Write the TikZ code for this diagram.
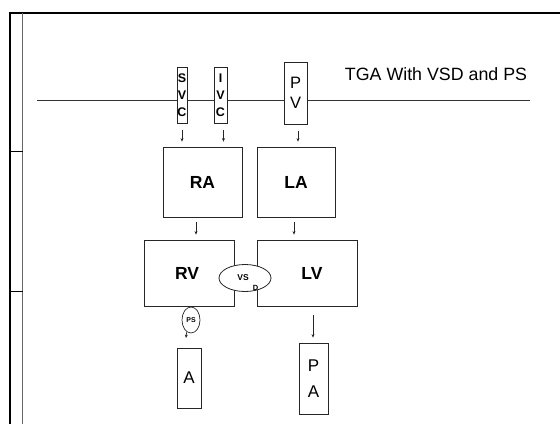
\documentclass[tikz,border=0pt]{standalone}
\usepackage{fontspec}
\setmainfont{Liberation Sans}
\usetikzlibrary{arrows.meta,shapes.geometric}
\begin{document}
\begin{tikzpicture}[x=1pt,y=-1pt,
  box/.style={draw=black!85,line width=0.8pt,fill=white,inner sep=0pt,align=center},
  flow/.style={draw=black!85,line width=0.6pt,-{Stealth[length=3.5pt,width=3pt]}},
  frame/.style={line width=1.6pt,black},
  vein/.style={box,font=\fontsize{12.5}{17}\selectfont\bfseries},
  big/.style={font=\fontsize{17.5}{19}\selectfont\bfseries},
  outl/.style={box,font=\fontsize{17}{26.5}\selectfont},
]
\useasboundingbox (0,0) rectangle (560,424);
% page frame
\draw[frame] (10,424) -- (10,13) -- (560,13);
\draw[line width=1pt,black!60] (22.5,13) -- (22.5,424);
\draw[line width=1pt] (10,151) -- (22.5,151);
\draw[line width=1pt] (10,291) -- (22.5,291);
% horizontal line
\coordinate (hl) at (37,100);
\coordinate (hr) at (530,100);
\draw[line width=0.8pt,black!80] (hl) -- (hr);
% title
\node[font=\fontsize{17.8}{20}\selectfont] (title) at (436,74) {TGA With VSD and PS};
% vessels
\node[vein,minimum width=10pt,minimum height=56pt] (svc) at (182,95) {S\\V\\C};
\node[vein,minimum width=13pt,minimum height=56pt] (ivc) at (220.5,95) {I\\V\\C};
\node[box,minimum width=23pt,minimum height=62pt,font=\fontsize{16.5}{20}\selectfont] (pv) at (295.5,93) {P\\V};
% chambers
\node[box,big,minimum width=79pt,minimum height=70pt] (ra) at (202.5,182) {RA};
\node[box,big,minimum width=78pt,minimum height=70pt] (la) at (296,182) {LA};
\node[box,minimum width=90pt,minimum height=66pt] (rv) at (189,273) {};
\node[big] (rvt) at (187,273) {RV};
\node[box,minimum width=100pt,minimum height=66pt] (lv) at (307,273) {};
\node[big] (lvt) at (312,273) {LV};
% VSD
\node[draw=black!85,line width=0.8pt,fill=white,ellipse,minimum width=52pt,minimum height=27pt,inner sep=0pt] (vs) at (245,278) {};
\node[font=\fontsize{8.5}{9}\selectfont\bfseries] (vst) at (243,278) {VS};
\node[font=\fontsize{7.5}{8}\selectfont\bfseries] (dt) at (255.5,287.5) {D};
% PS
\node[draw=black!85,line width=0.7pt,ellipse,minimum width=18pt,minimum height=26pt,inner sep=0pt,font=\fontsize{7}{7}\selectfont\bfseries] (ps) at (191,320) {PS};
\coordinate (pstip) at (186,338);
\draw[flow] (ps.250) -- (pstip);
% outlets
\node[outl,minimum width=24pt,minimum height=60pt] (a) at (189,378) {A};
\node[outl,minimum width=29pt,minimum height=71pt] (pa) at (313.5,378.5) {P\\A};
% arrows
\draw[flow,shorten <=7pt,shorten >=5pt] (svc.south) -- (svc.south |- ra.north);
\draw[flow,shorten <=7pt,shorten >=5pt] ([xshift=3pt]ivc.south) -- ([xshift=3pt]ivc.south |- ra.north);
\draw[flow,shorten <=7pt,shorten >=5pt] ([xshift=2.5pt]pv.south) -- ([xshift=2.5pt]pv.south |- la.north);
\draw[flow,shorten <=5pt,shorten >=5pt] ([xshift=-6.5pt]ra.south) -- ([xshift=-6.5pt]ra.south |- rv.north);
\draw[flow,shorten <=5pt,shorten >=5pt] ([xshift=-2pt]la.south) -- ([xshift=-2pt]la.south |- lv.north);
\draw[flow,shorten <=9pt,shorten >=5pt] ([xshift=-0.5pt]pa.north |- lv.south) -- ([xshift=-0.5pt]pa.north);
\end{tikzpicture}
\end{document}
